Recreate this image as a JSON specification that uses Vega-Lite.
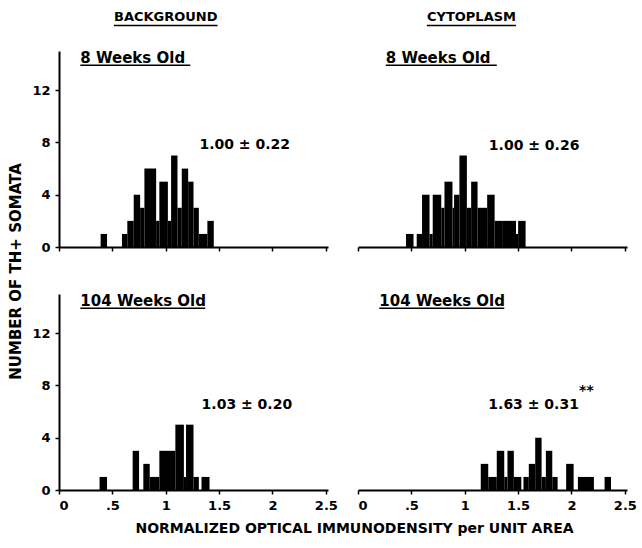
{
  "$schema": "https://vega.github.io/schema/vega-lite/v6.json",
  "background": "white",
  "padding": {"left": 8, "top": 11, "right": 5, "bottom": 5},
  "config": {
    "font": "DejaVu Sans",
    "view": {"stroke": null},
    "axis": {
      "grid": false,
      "domainColor": "black",
      "domainWidth": 2,
      "tickColor": "black",
      "tickWidth": 1.5,
      "tickSize": 4,
      "labelFont": "DejaVu Sans",
      "labelFontWeight": "bold",
      "labelFontSize": 13,
      "labelColor": "black",
      "labelPadding": 5,
      "titleFont": "DejaVu Sans",
      "titleFontWeight": "bold",
      "titleFontSize": 14,
      "titleColor": "black"
    },
    "text": {"font": "DejaVu Sans", "fontWeight": "bold", "color": "black"}
  },
  "datasets": {
    "bg8": [
      {"x0": 0.39, "x1": 0.45, "n": 1},
      {"x0": 0.59, "x1": 0.64, "n": 1},
      {"x0": 0.64, "x1": 0.70, "n": 2},
      {"x0": 0.70, "x1": 0.76, "n": 4},
      {"x0": 0.76, "x1": 0.80, "n": 3},
      {"x0": 0.80, "x1": 0.91, "n": 6},
      {"x0": 0.91, "x1": 0.94, "n": 2},
      {"x0": 0.94, "x1": 1.02, "n": 5},
      {"x0": 1.02, "x1": 1.05, "n": 2},
      {"x0": 1.05, "x1": 1.11, "n": 7},
      {"x0": 1.11, "x1": 1.15, "n": 3},
      {"x0": 1.15, "x1": 1.21, "n": 6},
      {"x0": 1.21, "x1": 1.26, "n": 5},
      {"x0": 1.26, "x1": 1.31, "n": 3},
      {"x0": 1.31, "x1": 1.39, "n": 1},
      {"x0": 1.39, "x1": 1.45, "n": 2}
    ],
    "cy8": [
      {"x0": 0.45, "x1": 0.52, "n": 1},
      {"x0": 0.55, "x1": 0.60, "n": 1},
      {"x0": 0.60, "x1": 0.67, "n": 4},
      {"x0": 0.67, "x1": 0.70, "n": 1},
      {"x0": 0.70, "x1": 0.78, "n": 4},
      {"x0": 0.78, "x1": 0.81, "n": 3},
      {"x0": 0.81, "x1": 0.885, "n": 5},
      {"x0": 0.885, "x1": 0.90, "n": 3},
      {"x0": 0.90, "x1": 0.95, "n": 4},
      {"x0": 0.95, "x1": 1.02, "n": 7},
      {"x0": 1.02, "x1": 1.06, "n": 3},
      {"x0": 1.06, "x1": 1.12, "n": 5},
      {"x0": 1.12, "x1": 1.21, "n": 3},
      {"x0": 1.21, "x1": 1.28, "n": 4},
      {"x0": 1.28, "x1": 1.35, "n": 2},
      {"x0": 1.35, "x1": 1.48, "n": 2},
      {"x0": 1.48, "x1": 1.50, "n": 1},
      {"x0": 1.50, "x1": 1.57, "n": 2}
    ],
    "bg104": [
      {"x0": 0.38, "x1": 0.45, "n": 1},
      {"x0": 0.69, "x1": 0.75, "n": 3},
      {"x0": 0.79, "x1": 0.85, "n": 2},
      {"x0": 0.85, "x1": 0.94, "n": 1},
      {"x0": 0.94, "x1": 1.09, "n": 3},
      {"x0": 1.09, "x1": 1.17, "n": 5},
      {"x0": 1.17, "x1": 1.19, "n": 1},
      {"x0": 1.19, "x1": 1.26, "n": 5},
      {"x0": 1.26, "x1": 1.31, "n": 1},
      {"x0": 1.335, "x1": 1.41, "n": 1}
    ],
    "cy104": [
      {"x0": 1.15, "x1": 1.22, "n": 2},
      {"x0": 1.22, "x1": 1.30, "n": 1},
      {"x0": 1.30, "x1": 1.37, "n": 3},
      {"x0": 1.37, "x1": 1.40, "n": 1},
      {"x0": 1.40, "x1": 1.46, "n": 3},
      {"x0": 1.46, "x1": 1.53, "n": 1},
      {"x0": 1.55, "x1": 1.60, "n": 1},
      {"x0": 1.60, "x1": 1.66, "n": 2},
      {"x0": 1.66, "x1": 1.72, "n": 4},
      {"x0": 1.72, "x1": 1.76, "n": 1},
      {"x0": 1.76, "x1": 1.82, "n": 3},
      {"x0": 1.82, "x1": 1.87, "n": 1},
      {"x0": 1.95, "x1": 2.02, "n": 2},
      {"x0": 2.06, "x1": 2.21, "n": 1},
      {"x0": 2.31, "x1": 2.37, "n": 1}
    ]
  },
  "columns": 2,
  "spacing": {"row": 47, "column": 30},
  "bounds": "flush",
  "concat": [
    {
      "width": 269,
      "height": 196,
      "layer": [
        {
          "data": {"name": "bg8"},
          "mark": {"type": "bar", "color": "black"},
          "encoding": {
            "x": {"field": "x0", "type": "quantitative", "scale": {"domain": [0, 2.52], "nice": false},
              "axis": {"values": [0,0.125,0.25,0.375,0.5,0.625,0.75,0.875,1,1.125,1.25,1.375,1.5,1.625,1.75,1.875,2,2.125,2.25,2.375,2.5], "labels": false, "title": null}},
            "x2": {"field": "x1"},
            "y": {"field": "n", "type": "quantitative", "scale": {"domain": [0, 15], "nice": false},
              "axis": {"values": [0,2,4,6,8,10,12,14], "format": "d", "labelExpr": "datum.value % 4 == 0 ? datum.label : ''", "labelOverlap": false, "title": "NUMBER OF TH+ SOMATA", "titleFontSize": 15, "titleY": 220, "titleAlign": "center", "titlePadding": 8}},
            "y2": {"datum": 0}
          }
        },
        {
          "data": {"values": [{"t": "1.00 ± 0.22"}]},
          "mark": {"type": "text", "fontSize": 14, "align": "center", "baseline": "middle"},
          "encoding": {"x": {"datum": 1.74}, "y": {"datum": 7.8}, "text": {"field": "t"}}
        },
        {
          "data": {"values": [{"t": "8 Weeks Old"}]},
          "mark": {"type": "text", "fontSize": 15, "align": "left", "baseline": "middle"},
          "encoding": {"x": {"datum": 0.2}, "y": {"datum": 14.5}, "text": {"field": "t"}}
        },
        {
          "data": {"values": [{"t": "u"}]},
          "mark": {"type": "rule", "color": "black", "strokeWidth": 1.5},
          "encoding": {"x": {"datum": 0.2}, "x2": {"datum": 1.23}, "y": {"datum": 13.9}}
        },
        {
          "data": {"values": [{"t": "BACKGROUND"}]},
          "mark": {"type": "text", "fontSize": 13, "align": "center", "baseline": "middle"},
          "encoding": {"x": {"datum": 1.0}, "y": {"datum": 17.6}, "text": {"field": "t"}}
        },
        {
          "data": {"values": [{"t": "u"}]},
          "mark": {"type": "rule", "color": "black", "strokeWidth": 1.5},
          "encoding": {"x": {"datum": 0.515}, "x2": {"datum": 1.485}, "y": {"datum": 16.95}}
        }
      ]
    },
    {
      "width": 269,
      "height": 196,
      "layer": [
        {
          "data": {"name": "cy8"},
          "mark": {"type": "bar", "color": "black"},
          "encoding": {
            "x": {"field": "x0", "type": "quantitative", "scale": {"domain": [0, 2.52], "nice": false},
              "axis": {"values": [0,0.125,0.25,0.375,0.5,0.625,0.75,0.875,1,1.125,1.25,1.375,1.5,1.625,1.75,1.875,2,2.125,2.25,2.375,2.5], "labels": false, "title": null}},
            "x2": {"field": "x1"},
            "y": {"field": "n", "type": "quantitative", "scale": {"domain": [0, 15], "nice": false}, "axis": null},
            "y2": {"datum": 0}
          }
        },
        {
          "data": {"values": [{"t": "1.00 ± 0.26"}]},
          "mark": {"type": "text", "fontSize": 14, "align": "center", "baseline": "middle"},
          "encoding": {"x": {"datum": 1.65}, "y": {"datum": 7.7}, "text": {"field": "t"}}
        },
        {
          "data": {"values": [{"t": "8 Weeks Old"}]},
          "mark": {"type": "text", "fontSize": 15, "align": "left", "baseline": "middle"},
          "encoding": {"x": {"datum": 0.26}, "y": {"datum": 14.5}, "text": {"field": "t"}}
        },
        {
          "data": {"values": [{"t": "u"}]},
          "mark": {"type": "rule", "color": "black", "strokeWidth": 1.5},
          "encoding": {"x": {"datum": 0.26}, "x2": {"datum": 1.3}, "y": {"datum": 13.9}}
        },
        {
          "data": {"values": [{"t": "CYTOPLASM"}]},
          "mark": {"type": "text", "fontSize": 13, "align": "center", "baseline": "middle"},
          "encoding": {"x": {"datum": 1.063}, "y": {"datum": 17.6}, "text": {"field": "t"}}
        },
        {
          "data": {"values": [{"t": "u"}]},
          "mark": {"type": "rule", "color": "black", "strokeWidth": 1.5},
          "encoding": {"x": {"datum": 0.645}, "x2": {"datum": 1.48}, "y": {"datum": 16.95}}
        }
      ]
    },
    {
      "width": 269,
      "height": 196,
      "layer": [
        {
          "data": {"name": "bg104"},
          "mark": {"type": "bar", "color": "black"},
          "encoding": {
            "x": {"field": "x0", "type": "quantitative", "scale": {"domain": [0, 2.52], "nice": false},
              "axis": {"values": [0,0.125,0.25,0.375,0.5,0.625,0.75,0.875,1,1.125,1.25,1.375,1.5,1.625,1.75,1.875,2,2.125,2.25,2.375,2.5], "format": ".3~f", "labelExpr": "datum.value % 0.5 == 0 ? (datum.value == 0.5 ? '.5' : datum.label) : ''", "labelOverlap": false, "title": "NORMALIZED OPTICAL IMMUNODENSITY per UNIT AREA", "titleX": 295, "titlePadding": 9}},
            "x2": {"field": "x1"},
            "y": {"field": "n", "type": "quantitative", "scale": {"domain": [0, 15], "nice": false},
              "axis": {"values": [0,2,4,6,8,10,12,14], "format": "d", "labelExpr": "datum.value % 4 == 0 ? datum.label : ''", "labelOverlap": false, "title": null}},
            "y2": {"datum": 0}
          }
        },
        {
          "data": {"values": [{"t": "1.03 ± 0.20"}]},
          "mark": {"type": "text", "fontSize": 14, "align": "center", "baseline": "middle"},
          "encoding": {"x": {"datum": 1.76}, "y": {"datum": 6.5}, "text": {"field": "t"}}
        },
        {
          "data": {"values": [{"t": "104 Weeks Old"}]},
          "mark": {"type": "text", "fontSize": 15, "align": "left", "baseline": "middle"},
          "encoding": {"x": {"datum": 0.2}, "y": {"datum": 14.5}, "text": {"field": "t"}}
        },
        {
          "data": {"values": [{"t": "u"}]},
          "mark": {"type": "rule", "color": "black", "strokeWidth": 1.5},
          "encoding": {"x": {"datum": 0.2}, "x2": {"datum": 1.37}, "y": {"datum": 13.9}}
        }
      ]
    },
    {
      "width": 269,
      "height": 196,
      "layer": [
        {
          "data": {"name": "cy104"},
          "mark": {"type": "bar", "color": "black"},
          "encoding": {
            "x": {"field": "x0", "type": "quantitative", "scale": {"domain": [0, 2.52], "nice": false},
              "axis": {"values": [0,0.125,0.25,0.375,0.5,0.625,0.75,0.875,1,1.125,1.25,1.375,1.5,1.625,1.75,1.875,2,2.125,2.25,2.375,2.5], "format": ".3~f", "labelExpr": "datum.value % 0.5 == 0 ? (datum.value == 0.5 ? '.5' : datum.label) : ''", "labelOverlap": false, "title": null}},
            "x2": {"field": "x1"},
            "y": {"field": "n", "type": "quantitative", "scale": {"domain": [0, 15], "nice": false}, "axis": null},
            "y2": {"datum": 0}
          }
        },
        {
          "data": {"values": [{"t": "1.63 ± 0.31"}]},
          "mark": {"type": "text", "fontSize": 14, "align": "center", "baseline": "middle"},
          "encoding": {"x": {"datum": 1.645}, "y": {"datum": 6.5}, "text": {"field": "t"}}
        },
        {
          "data": {"values": [{"t": "**"}]},
          "mark": {"type": "text", "fontSize": 14, "align": "center", "baseline": "middle"},
          "encoding": {"x": {"datum": 2.14}, "y": {"datum": 7.6}, "text": {"field": "t"}}
        },
        {
          "data": {"values": [{"t": "104 Weeks Old"}]},
          "mark": {"type": "text", "fontSize": 15, "align": "left", "baseline": "middle"},
          "encoding": {"x": {"datum": 0.2}, "y": {"datum": 14.5}, "text": {"field": "t"}}
        },
        {
          "data": {"values": [{"t": "u"}]},
          "mark": {"type": "rule", "color": "black", "strokeWidth": 1.5},
          "encoding": {"x": {"datum": 0.2}, "x2": {"datum": 1.37}, "y": {"datum": 13.9}}
        }
      ]
    }
  ]
}
